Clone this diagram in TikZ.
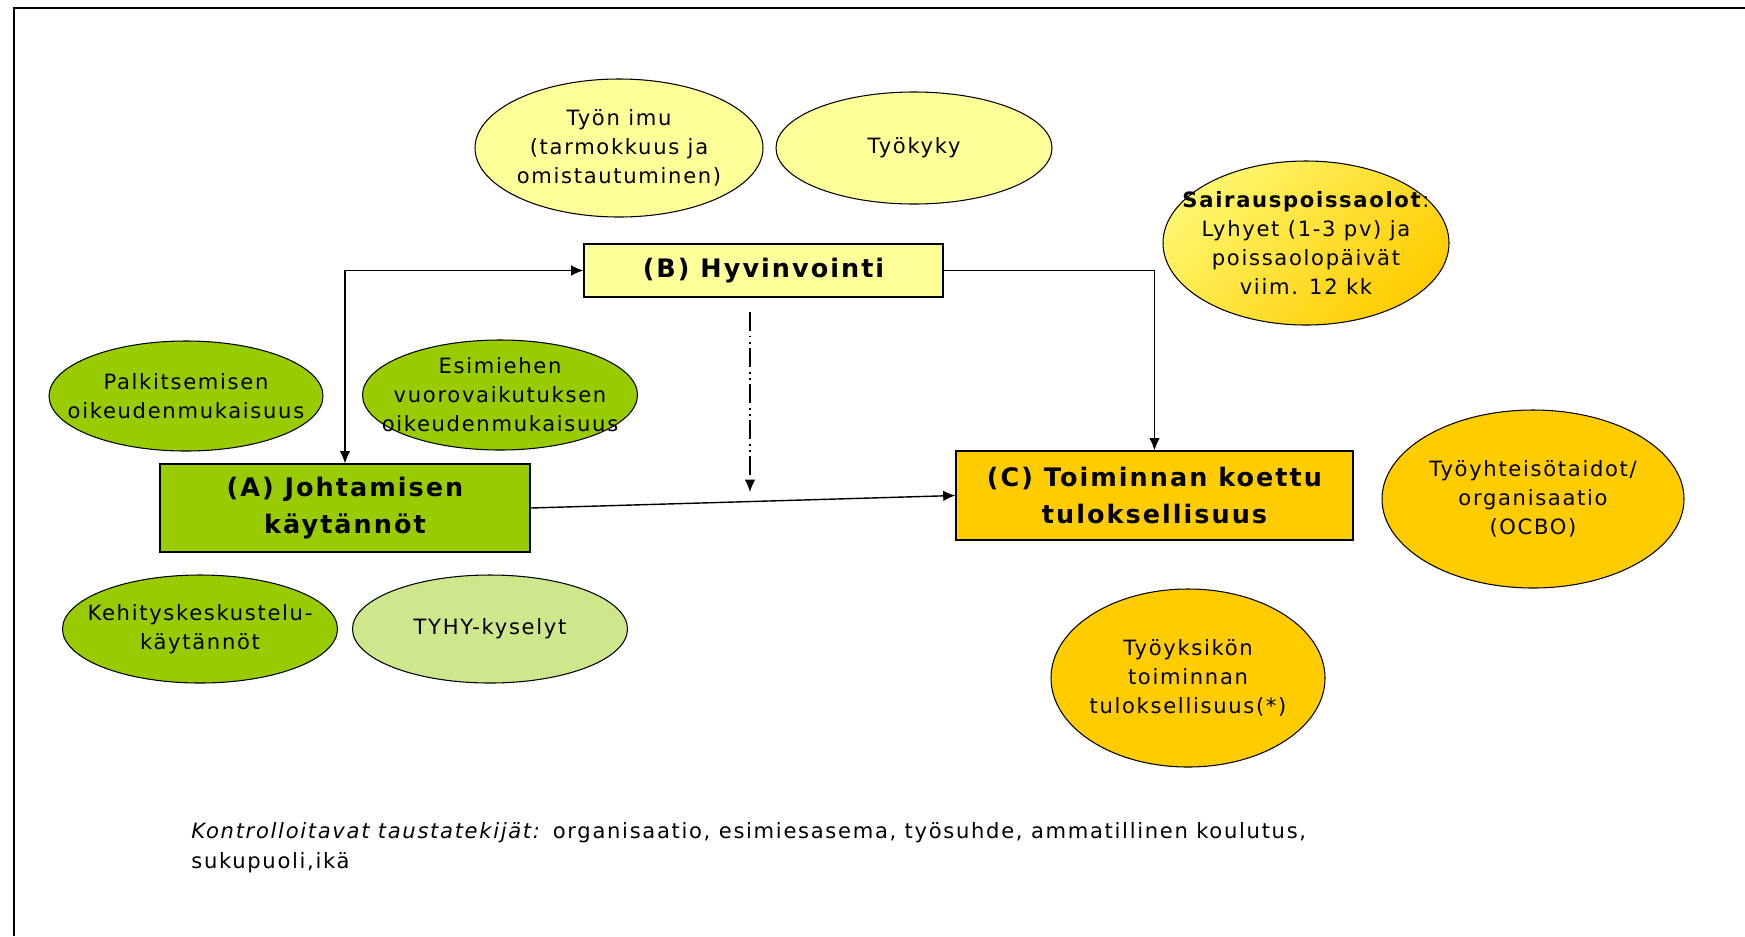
\documentclass[tikz,border=0pt]{standalone}
\usepackage{fontspec}
\setmainfont{DejaVu Sans}[LetterSpace=8]
\usetikzlibrary{shapes.geometric,arrows.meta}

\definecolor{paleyellow}{HTML}{FFFF99}
\definecolor{leafgreen}{HTML}{99CC00}
\definecolor{palegreen}{RGB}{206,230,140}
\definecolor{gold}{HTML}{FFCC00}
\definecolor{sunyellow}{RGB}{255,246,110}

\tikzset{
  oval/.style={ellipse, draw, line width=0.6pt, inner sep=-0.7cm, align=center,
    font=\fontsize{12}{16.5}\selectfont},
  factor/.style={rectangle, draw, line width=0.6pt, inner sep=0pt, align=center,
    font=\bfseries\fontsize{14.5}{21}\selectfont},
  conn/.style={line width=0.8pt, ->, >={Latex[length=7pt,width=6pt]}}
}

\begin{document}
\begin{tikzpicture}
  \useasboundingbox (0cm,0cm) rectangle (34.9cm,-18.72cm);
  \draw[line width=1.2pt] (34.9cm,-0.16cm) -- (0.28cm,-0.16cm) -- (0.28cm,-18.72cm);

  % wellbeing row
  \node[oval, fill=paleyellow, minimum width=5.76cm, minimum height=2.76cm] (imu) at (12.38cm,-2.96cm) {Työn imu\\(tarmokkuus ja\\omistautuminen)};
  \node[oval, fill=paleyellow, minimum width=5.52cm, minimum height=2.24cm] (kyky) at (18.28cm,-2.96cm) {Työkyky};
  \node[oval, top color=sunyellow, bottom color=gold, shading angle=45, minimum width=5.72cm, minimum height=3.28cm] (poissa) at (26.12cm,-4.86cm) {\textbf{Sairauspoissaolot}:\\Lyhyet (1-3 pv) ja\\poissaolopäivät\\viim. 12 kk};
  \node[factor, fill=paleyellow, minimum width=7.18cm, minimum height=1.06cm] (B) at (15.27cm,-5.41cm) {(B) Hyvinvointi};

  % leadership side
  \node[oval, fill=leafgreen, minimum width=5.48cm, minimum height=2.2cm] (palkka) at (3.72cm,-7.92cm) {Palkitsemisen\\oikeudenmukaisuus};
  \node[oval, fill=leafgreen, minimum width=5.5cm, minimum height=2.2cm] (esimies) at (10cm,-7.9cm) {Esimiehen\\vuorovaikutuksen\\oikeudenmukaisuus};
  \node[factor, fill=leafgreen, minimum width=7.4cm, minimum height=1.76cm] (A) at (6.9cm,-10.16cm) {(A) Johtamisen\\käytännöt};
  \node[oval, fill=leafgreen, minimum width=5.5cm, minimum height=2.16cm] (kehitys) at (4cm,-12.58cm) {Kehityskeskustelu-\\käytännöt};
  \node[oval, fill=palegreen, minimum width=5.5cm, minimum height=2.16cm] (tyhy) at (9.8cm,-12.58cm) {TYHY-kyselyt};

  % performance side
  \node[factor, fill=gold, minimum width=7.94cm, minimum height=1.78cm] (C) at (23.09cm,-9.91cm) {(C) Toiminnan koettu\\tuloksellisuus};
  \node[oval, fill=gold, minimum width=6.04cm, minimum height=3.56cm] (ocbo) at (30.66cm,-9.98cm) {Työyhteisötaidot/\\organisaatio\\(OCBO)};
  \node[oval, fill=gold, minimum width=5.48cm, minimum height=3.56cm] (yksikko) at (23.76cm,-13.56cm) {Työyksikön\\toiminnan\\tuloksellisuus(*)};

  \node[anchor=north west, align=left, inner sep=0pt, font=\fontsize{12}{17}\selectfont] (tausta) at (3.82cm,-16.45cm) {\textit{Kontrolloitavat taustatekijät:} organisaatio, esimiesasema, työsuhde, ammatillinen koulutus,\\sukupuoli,ikä};

  % connectors
  \draw[conn, <->] (A.north) |- (B.west);
  \draw[conn] (B.east) -| (C.north);
  \draw[conn] (A.east) -- (C.west);
  \coordinate (valia) at (15cm,-6.24cm);
  \coordinate (valib) at (15cm,-9.84cm);
  \draw[conn, dash pattern=on 11pt off 2.5pt on 1pt off 2.5pt on 1pt off 2.5pt] (valia) -- (valib);
\end{tikzpicture}
\end{document}
